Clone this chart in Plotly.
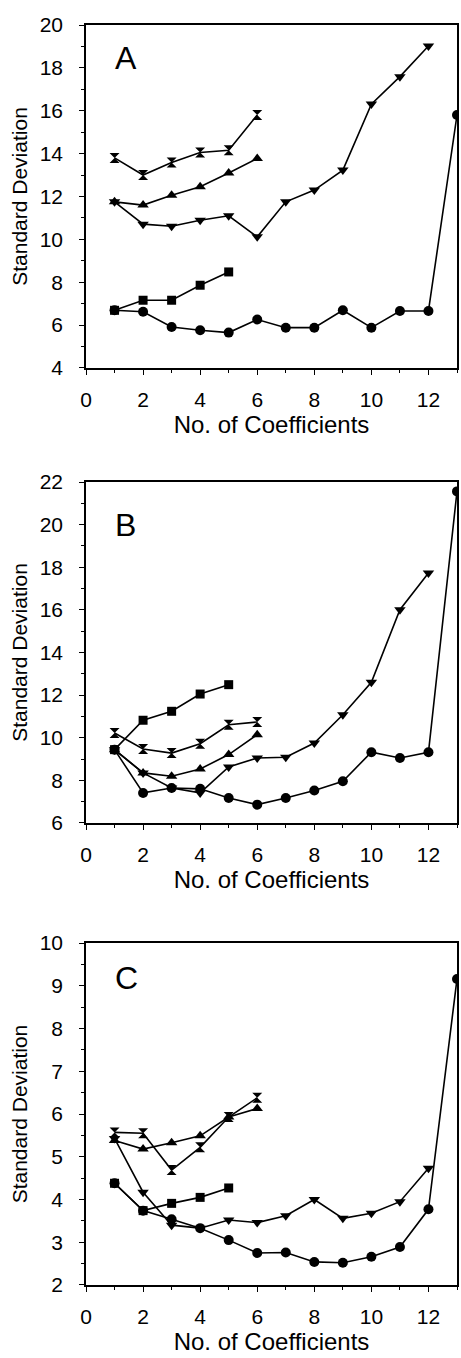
import plotly.graph_objects as go
from plotly.subplots import make_subplots

# ---- data (x = number of coefficients) ----
x13 = list(range(1, 14))
x12 = list(range(1, 13))
x6 = list(range(1, 7))
x5 = list(range(1, 6))

# Panel A
A_circle = [6.69, 6.62, 5.91, 5.76, 5.65, 6.26, 5.88, 5.88, 6.69, 5.88, 6.66, 6.66, 15.8]
A_square = [6.69, 7.16, 7.16, 7.86, 8.48]
A_tridown = [11.75, 10.71, 10.61, 10.89, 11.1, 10.12, 11.75, 12.3, 13.23, 16.31, 17.59, 19.02]
A_triup = [11.75, 11.6, 12.06, 12.45, 13.1, 13.77]
A_hour = [13.8, 13.0, 13.59, 14.05, 14.16, 15.8]

# Panel B
B_circle = [9.44, 7.41, 7.64, 7.6, 7.17, 6.86, 7.17, 7.52, 7.96, 9.32, 9.05, 9.32, 21.56]
B_square = [9.44, 10.82, 11.24, 12.05, 12.49]
B_tridown = [9.44, 8.35, 7.64, 7.41, 8.63, 9.05, 9.08, 9.75, 11.08, 12.6, 16.01, 17.73]
B_triup = [9.44, 8.35, 8.19, 8.53, 9.21, 10.14]
B_hour = [10.22, 9.47, 9.28, 9.72, 10.61, 10.74]

# Panel C
C_circle = [4.38, 3.74, 3.54, 3.33, 3.05, 2.75, 2.76, 2.54, 2.52, 2.66, 2.89, 3.77, 9.16]
C_square = [4.38, 3.74, 3.91, 4.05, 4.27]
C_tridown = [5.43, 4.17, 3.4, 3.33, 3.52, 3.46, 3.62, 4.0, 3.56, 3.68, 3.95, 4.73]
C_triup = [5.38, 5.18, 5.33, 5.49, 5.93, 6.13]
C_hour = [5.57, 5.55, 4.69, 5.22, 5.93, 6.38]

panel_labels = ["A", "B", "C"]
x_title = "No. of Coefficients"
y_title = "Standard Deviation"
y_ranges = [[4, 20], [6, 22], [2, 10]]
y_dticks = [2, 2, 1]

panels = [
    (A_circle, A_square, A_tridown, A_triup, A_hour),
    (B_circle, B_square, B_tridown, B_triup, B_hour),
    (C_circle, C_square, C_tridown, C_triup, C_hour),
]

fig = make_subplots(rows=3, cols=1)

FONT = "Arial, Liberation Sans, sans-serif"
line = dict(color="black", width=1.6)

for i, (circ, sq, tdn, tup, hg) in enumerate(panels):
    r = i + 1
    series = [
        (x13, circ, "circle", 10),
        (x5, sq, "square", 9),
        (x12, tdn, "triangle-down", 10),
        (x6, tup, "triangle-up", 10),
        (x6, hg, "hourglass", 10),
    ]
    for xs, ys, sym, sz in series:
        fig.add_trace(go.Scatter(x=xs, y=ys, mode="lines+markers",
                                 line=line,
                                 marker=dict(symbol=sym, size=sz, color="black"),
                                 showlegend=False, cliponaxis=True),
                      row=r, col=1)

y_domains = [[0.7278, 1.0], [0.3667, 0.6373], [0.0, 0.2714]]
label_y = [0.904, 0.874, 0.898]

axis_common = dict(showline=True, linecolor="black", linewidth=1.5, mirror=True,
                   ticks="outside", ticklen=5, tickwidth=1, tickcolor="black",
                   showgrid=False, zeroline=False,
                   tickfont=dict(family=FONT, size=21, color="black"))

for i in range(3):
    r = i + 1
    fig.update_xaxes(row=r, col=1, range=[0, 13], dtick=2, tick0=0,
                     minor=dict(dtick=1, ticks="outside", ticklen=3, tickcolor="black"),
                     title=dict(text=x_title, font=dict(family=FONT, size=24, color="black"),
                                standoff=2),
                     ticklabelstandoff=7,
                     **axis_common)
    fig.update_yaxes(row=r, col=1, range=y_ranges[i], dtick=y_dticks[i],
                     domain=y_domains[i],
                     minor=dict(dtick=y_dticks[i] / 2, ticks="outside", ticklen=3, tickcolor="black"),
                     title=dict(text=y_title, font=dict(family=FONT, size=21, color="black"),
                                standoff=6),
                     ticklabelstandoff=12,
                     **axis_common)
    xref = "x domain" if r == 1 else f"x{r} domain"
    yref = "y domain" if r == 1 else f"y{r} domain"
    fig.add_annotation(x=0.072, y=label_y[i], xref=xref, yref=yref,
                       text=panel_labels[i], showarrow=False,
                       xanchor="left", yanchor="middle",
                       font=dict(family=FONT, size=32, color="black"))

fig.update_layout(width=461, height=1358,
                  margin=dict(l=86, r=2, t=25, b=73),
                  paper_bgcolor="white", plot_bgcolor="white",
                  font=dict(family=FONT, color="black"))

fig.write_html("out.html",
               config={"displayModeBar": False},
               post_script="document.body.style.margin='0';document.body.style.overflow='hidden';")
